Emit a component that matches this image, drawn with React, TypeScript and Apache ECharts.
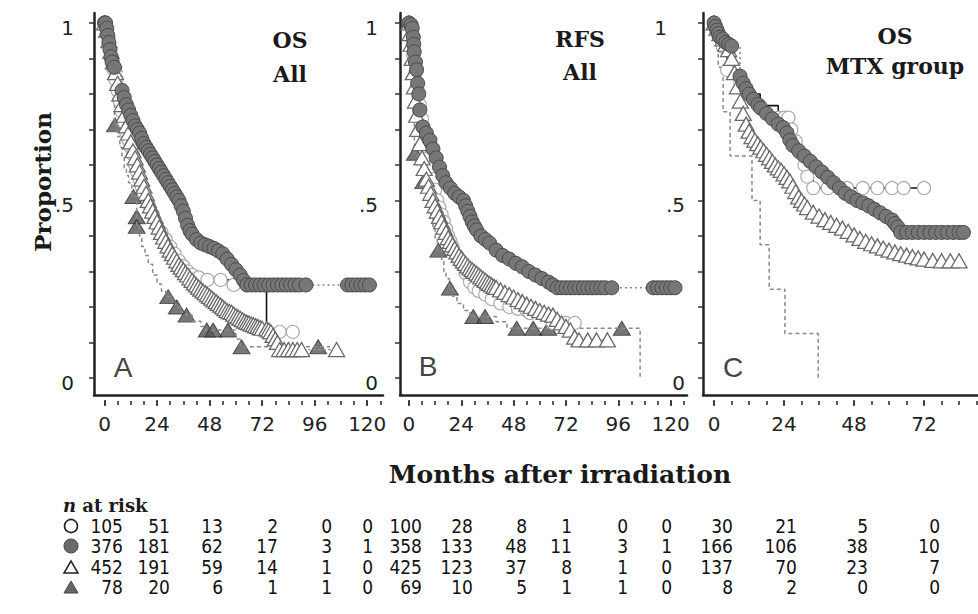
import React, { useEffect, useRef } from "react";
import * as echarts from "echarts";

// ---------- tick values ----------
const X_LABELS_ALL = [0, 24, 48, 72, 96, 120];
const X_LABELS_MTX = [0, 24, 48, 72];
const X_MINOR_ALL = [0, 6, 12, 18, 24, 30, 36, 42, 48, 54, 60, 66, 72, 78, 84, 90, 96, 102, 108, 114, 120, 126];
const X_MINOR_MTX = [0, 6, 12, 18, 24, 30, 36, 42, 48, 54, 60, 66, 72, 78, 84, 90];
const Y_TICKS = [0, 0.1, 0.2, 0.3, 0.4, 0.5, 0.6, 0.7, 0.8, 0.9, 1];
const Y_LABELS = [0, 0.5, 1];

const PANEL_TITLES = [["OS", "All"], ["RFS", "All"], ["OS", "MTX group"]];
const PANEL_LETTERS = ["A", "B", "C"];
const GROUP_SYMBOLS = ["open circle", "filled circle", "open triangle", "filled triangle"];

// ---------- Panel A: OS, all patients [months, proportion] ----------
const OS_ALL_OPEN_CIRCLE = [[0,1],[1,0.97],[2,0.94],[3,0.9],[4,0.87],[5,0.84],[6,0.81],[7,0.78],[8,0.75],[9,0.72],[10,0.69],[11,0.67],[12,0.65],[13,0.63],[14,0.6],[15,0.58],[16,0.56],[17,0.54],[18,0.52],[20,0.49],[22,0.46],[24,0.43],[26,0.41],[28,0.39],[30,0.37],[32,0.35],[34,0.33],[36,0.315],[38,0.3],[40,0.29],[43,0.283],[47,0.276],[53,0.276],[59,0.262],[66,0.262],[74,0.13],[80,0.13],[86,0.13]];
const OS_ALL_FILLED_CIRCLE = [[0,1],[0.5,1],[1,0.985],[1.5,0.965],[2,0.945],[2.5,0.925],[3,0.905],[3.5,0.89],[4.5,0.875],[8,0.81],[9,0.79],[10,0.77],[11,0.755],[12,0.74],[13,0.725],[14,0.71],[15,0.7],[16,0.69],[17,0.675],[18,0.66],[19,0.65],[20,0.64],[21,0.63],[22,0.62],[23,0.61],[24,0.6],[25,0.59],[26,0.58],[27,0.57],[28,0.56],[29,0.55],[30,0.54],[31,0.53],[32,0.52],[33,0.51],[34,0.5],[35,0.485],[36,0.47],[37,0.45],[38,0.43],[39,0.415],[40,0.405],[42,0.39],[44,0.38],[46,0.375],[48,0.37],[50,0.365],[52,0.358],[54,0.35],[56,0.335],[58,0.32],[60,0.305],[62,0.29],[63.5,0.275],[65,0.262],[67,0.262],[69,0.262],[71,0.262],[73,0.262],[75,0.262],[77,0.262],[79,0.262],[81,0.262],[83,0.262],[85,0.262],[87,0.262],[89,0.262],[92,0.262],[111,0.262],[113,0.262],[115,0.262],[117,0.262],[119,0.262],[121,0.262]];
const OS_ALL_OPEN_TRIANGLE = [[0,1],[1,0.98],[2,0.95],[3,0.92],[4,0.89],[5,0.86],[6,0.83],[7,0.8],[8,0.77],[9,0.74],[10,0.71],[11,0.69],[12,0.665],[13,0.64],[14,0.62],[15,0.6],[16,0.58],[17,0.56],[18,0.54],[19,0.52],[20,0.5],[21,0.485],[22,0.47],[23,0.455],[24,0.44],[25,0.425],[26,0.41],[27,0.397],[28,0.385],[29,0.372],[30,0.36],[31,0.35],[32,0.34],[33,0.33],[34,0.32],[35,0.312],[36,0.305],[37,0.297],[38,0.29],[39,0.282],[40,0.275],[41,0.268],[42,0.262],[43,0.256],[44,0.25],[45,0.245],[46,0.24],[47,0.235],[48,0.23],[49,0.225],[50,0.22],[51,0.215],[52,0.21],[53,0.205],[54,0.2],[55,0.195],[56,0.19],[57,0.187],[58,0.185],[59,0.18],[60,0.175],[61,0.172],[62,0.168],[63,0.164],[64,0.16],[65,0.157],[66,0.155],[67,0.152],[68,0.15],[69,0.147],[70,0.145],[71,0.142],[72,0.14],[74,0.138],[75,0.135],[76,0.13],[77,0.12],[78,0.11],[79,0.1],[80,0.08],[82,0.08],[84,0.08],[86,0.08],[88,0.08],[90,0.08],[106,0.08]];
const OS_ALL_FILLED_TRIANGLE = [[0,1],[0.5,0.96],[1,0.92],[2,0.87],[3,0.82],[4,0.77],[4.5,0.713],[6,0.68],[7,0.65],[8,0.62],[9,0.59],[10,0.57],[11,0.55],[12.5,0.511],[14.7,0.454],[14.8,0.427],[16,0.4],[17,0.37],[18.5,0.345],[20,0.32],[22,0.29],[24,0.265],[26,0.245],[28,0.229],[31,0.215],[32.5,0.2],[35,0.185],[37,0.177],[40,0.16],[44,0.145],[46,0.135],[60,0.11],[62,0.088],[103,0.088]];
const OS_ALL_FILLED_TRIANGLE_CENSOR = [[4.8,0.713],[13.2,0.511],[14.7,0.454],[14.7,0.427],[29.1,0.229],[33,0.2],[37.5,0.177],[46.7,0.135],[49.6,0.135],[56.4,0.135],[62.6,0.088],[97.6,0.088]];

// ---------- Panel B: RFS, all patients ----------
const RFS_ALL_OPEN_CIRCLE = [[0,1],[1,0.96],[2,0.91],[3,0.86],[4,0.81],[5,0.77],[6,0.73],[7,0.69],[8,0.65],[9,0.62],[10,0.59],[11,0.56],[12,0.53],[13,0.5],[14,0.48],[15,0.46],[16,0.44],[17,0.42],[18,0.4],[19,0.385],[20,0.37],[22,0.345],[24,0.32],[26,0.295],[28,0.27],[30,0.255],[32,0.245],[35,0.235],[38,0.222],[42,0.21],[46,0.2],[50,0.195],[54,0.19],[55.5,0.183],[66,0.155],[72,0.155],[76,0.155]];
const RFS_ALL_FILLED_CIRCLE = [[0,1],[1,0.995],[1.5,0.985],[2,0.96],[2.2,0.94],[2.4,0.919],[3,0.89],[3.5,0.868],[4,0.83],[4.5,0.8],[5,0.755],[6.4,0.707],[8,0.69],[9.6,0.67],[11,0.645],[12.5,0.62],[14,0.594],[15.5,0.57],[17,0.55],[19,0.535],[21,0.52],[23,0.51],[25,0.5],[26,0.485],[27,0.47],[28,0.455],[29,0.44],[30,0.428],[31,0.417],[33,0.4],[35,0.39],[37,0.38],[40,0.36],[43,0.345],[46,0.335],[49,0.323],[52,0.313],[55,0.3],[58,0.29],[61,0.28],[64,0.27],[66,0.262],[68,0.254],[70,0.254],[72,0.254],[74,0.254],[76,0.254],[78,0.254],[80,0.254],[82,0.254],[84,0.254],[86,0.254],[88,0.254],[90,0.254],[93,0.254],[112,0.254],[114,0.254],[116,0.254],[118,0.254],[120,0.254],[122,0.254]];
const RFS_ALL_OPEN_TRIANGLE = [[0,1],[0.5,0.97],[1,0.94],[1.5,0.9],[2,0.86],[2.5,0.82],[3,0.78],[3.5,0.74],[4,0.7],[5,0.66],[6,0.62],[7,0.59],[8,0.56],[9,0.54],[10,0.52],[11,0.5],[12,0.485],[13,0.47],[14,0.455],[15,0.44],[16,0.425],[17,0.41],[18,0.395],[19,0.385],[20,0.375],[21,0.365],[22,0.355],[23,0.345],[24,0.337],[25,0.33],[26,0.323],[27,0.316],[28,0.31],[29,0.305],[30,0.3],[31,0.295],[32,0.29],[33,0.285],[34,0.28],[35,0.275],[36,0.27],[37,0.266],[38,0.262],[39,0.258],[40,0.255],[42,0.248],[44,0.241],[46,0.235],[48,0.228],[50,0.221],[52,0.215],[54,0.208],[56,0.202],[58,0.196],[60,0.19],[62,0.185],[64,0.18],[66,0.177],[68,0.165],[70,0.155],[72,0.145],[74,0.135],[76,0.115],[78,0.107],[82,0.107],[86,0.107],[91,0.107]];
const RFS_ALL_FILLED_TRIANGLE = [[0,1],[0.5,0.93],[1,0.86],[1.5,0.79],[2,0.72],[2.5,0.633],[4,0.6],[5.5,0.575],[6.5,0.553],[8,0.52],[9,0.48],[10,0.45],[11,0.42],[12,0.39],[13,0.36],[15,0.33],[16,0.3],[17,0.28],[18.5,0.253],[20,0.23],[22,0.21],[25,0.19],[28,0.173],[40,0.158],[45,0.14],[106,0]];
const RFS_ALL_FILLED_TRIANGLE_CENSOR = [[2.75,0.633],[6.6,0.553],[13.5,0.36],[18.8,0.253],[29.5,0.173],[34.9,0.173],[49.4,0.14],[57,0.14],[63.9,0.14],[97.6,0.14]];

// ---------- Panel C: OS, MTX group ----------
const MTX_OS_OPEN_CIRCLE = [[0,1],[1.4,0.967],[3,0.933],[4.5,0.867],[9,0.833],[11,0.8],[15.8,0.767],[22,0.733],[24,0.733],[25.5,0.733],[26.5,0.7],[28,0.667],[29.5,0.633],[31,0.6],[32,0.567],[34,0.535],[39,0.535],[45.6,0.535],[51,0.535],[56,0.535],[61,0.535],[65,0.535],[72,0.535]];
const MTX_OS_FILLED_CIRCLE = [[0,1],[0.5,0.99],[1,0.98],[1.5,0.97],[2,0.96],[3,0.955],[4,0.945],[5,0.94],[6,0.935],[8.9,0.85],[10,0.83],[11,0.815],[12,0.8],[13.5,0.785],[15,0.77],[16,0.76],[18,0.745],[20,0.73],[22,0.715],[23.7,0.705],[25,0.69],[26,0.67],[27,0.655],[29,0.64],[31,0.625],[33,0.61],[35,0.595],[37,0.58],[39,0.565],[41,0.55],[43,0.535],[45,0.52],[47,0.51],[49,0.5],[51,0.493],[53,0.485],[55,0.475],[57,0.465],[59,0.455],[61,0.445],[62,0.435],[63,0.425],[64,0.41],[66,0.41],[68,0.41],[70,0.41],[72,0.41],[74,0.41],[76,0.41],[78,0.41],[80,0.41],[82,0.41],[84,0.41],[85.5,0.41]];
const MTX_OS_OPEN_TRIANGLE = [[0,1],[1,0.985],[2,0.97],[3,0.955],[4,0.94],[5,0.925],[6,0.9],[7,0.86],[8,0.82],[9,0.78],[10,0.745],[11,0.715],[12,0.695],[13,0.68],[14,0.67],[15,0.66],[16,0.65],[17,0.64],[18,0.63],[19,0.62],[20,0.61],[21,0.6],[22,0.592],[23,0.585],[24,0.575],[25,0.565],[26,0.555],[27,0.54],[28,0.525],[29,0.51],[30,0.5],[31,0.49],[32,0.48],[34,0.467],[36,0.456],[38,0.446],[40,0.438],[42,0.43],[44,0.422],[46,0.413],[48,0.403],[50,0.393],[52,0.385],[54,0.378],[56,0.372],[58,0.366],[60,0.36],[62,0.355],[64,0.35],[66,0.346],[68,0.342],[70,0.338],[72,0.335],[75,0.331],[78,0.33],[81,0.33],[84,0.33]];
const MTX_OS_FILLED_TRIANGLE = [[0,1],[1.4,0.875],[3.1,0.75],[5.5,0.625],[13,0.5],[15.8,0.375],[18.9,0.25],[24.3,0.125],[35.7,0]];
const MTX_OS_FILLED_TRIANGLE_CENSOR: number[][] = [];

// ---------- n at risk (A: 0..120, B: 0..120, C: 0..72) ----------
const AT_RISK_OPEN_CIRCLE = [105, 51, 13, 2, 0, 0, 100, 28, 8, 1, 0, 0, 30, 21, 5, 0];
const AT_RISK_FILLED_CIRCLE = [376, 181, 62, 17, 3, 1, 358, 133, 48, 11, 3, 1, 166, 106, 38, 10];
const AT_RISK_OPEN_TRIANGLE = [452, 191, 59, 14, 1, 0, 425, 123, 37, 8, 1, 0, 137, 70, 23, 7];
const AT_RISK_FILLED_TRIANGLE = [78, 20, 6, 1, 1, 0, 69, 10, 5, 1, 1, 0, 8, 2, 0, 0];

// ---------- layout (not data) ----------
const TABLE_COL_RIGHT = [123, 170, 223, 278, 332, 373, 422, 473, 527, 572, 628, 672, 733, 797, 868, 940];
const TABLE_ROW_Y = [526, 546, 567, 587];

const SERIF_BOLD = '"DejaVu Serif", "Liberation Serif", serif';
const SANS = '"DejaVu Sans", "Liberation Sans", sans-serif';
const NUM_FONT = '"DejaVu Sans Condensed", "DejaVu Sans", sans-serif';

const PANELS = [
  {
    grid: { left: 94, top: 13, width: 289, height: 382 },
    xMin: -4.8, xMax: 127.2, labels: X_LABELS_ALL, minor: X_MINOR_ALL, yMargin: 20, onePad: 0,
    oc: OS_ALL_OPEN_CIRCLE, fc: OS_ALL_FILLED_CIRCLE, ot: OS_ALL_OPEN_TRIANGLE,
    ft: OS_ALL_FILLED_TRIANGLE, ftc: OS_ALL_FILLED_TRIANGLE_CENSOR,
    title: [290, 40, 74], letter: [123, 367],
  },
  {
    grid: { left: 400, top: 13, width: 287, height: 382 },
    xMin: -4.1, xMax: 127.5, labels: X_LABELS_ALL, minor: X_MINOR_ALL, yMargin: 22, onePad: 0,
    oc: RFS_ALL_OPEN_CIRCLE, fc: RFS_ALL_FILLED_CIRCLE, ot: RFS_ALL_OPEN_TRIANGLE,
    ft: RFS_ALL_FILLED_TRIANGLE, ftc: RFS_ALL_FILLED_TRIANGLE_CENSOR,
    title: [580, 39, 72], letter: [428, 366],
  },
  {
    grid: { left: 703, top: 13, width: 275, height: 382 },
    xMin: -3.8, xMax: 90.5, labels: X_LABELS_MTX, minor: X_MINOR_MTX, yMargin: 18, onePad: 18,
    oc: MTX_OS_OPEN_CIRCLE, fc: MTX_OS_FILLED_CIRCLE, ot: MTX_OS_OPEN_TRIANGLE,
    ft: MTX_OS_FILLED_TRIANGLE, ftc: MTX_OS_FILLED_TRIANGLE_CENSOR,
    title: [895, 36, 66], letter: [733, 367],
  },
];

function buildOption() {
  const grid: any[] = [];
  const xAxis: any[] = [];
  const yAxis: any[] = [];
  const series: any[] = [];
  const graphic: any[] = [];

  PANELS.forEach((p, i) => {
    grid.push({ ...p.grid, containLabel: false, outerBoundsMode: "none" });
    const base = { type: "value", gridIndex: i, min: p.xMin, max: p.xMax, position: "bottom", splitLine: { show: false } };
    xAxis.push({
      ...base,
      axisLine: { show: true, onZero: false, lineStyle: { color: "#222", width: 2.5 } },
      axisTick: { show: false },
      axisLabel: { show: true, customValues: p.labels, margin: 19, fontFamily: SANS, fontSize: 20, color: "#222", formatter: (v: number) => String(v) },
    });
    xAxis.push({
      ...base, offset: 6,
      axisLine: { show: false, onZero: false },
      axisTick: { show: true, customValues: p.minor, length: 4, lineStyle: { color: "#333", width: 1.6 } },
      axisLabel: { show: false },
    });
    xAxis.push({
      ...base, offset: 5,
      axisLine: { show: false, onZero: false },
      axisTick: { show: true, customValues: p.labels, length: 6, lineStyle: { color: "#333", width: 1.6 } },
      axisLabel: { show: false },
    });
    yAxis.push({
      type: "value", gridIndex: i, min: -0.048, max: 1.028, splitLine: { show: false },
      axisLine: { show: true, onZero: false, lineStyle: { color: "#222", width: 2.5 } },
      axisTick: { show: true, customValues: Y_TICKS, length: 5, lineStyle: { color: "#333", width: 1.5 } },
      axisLabel: {
        show: true, customValues: Y_LABELS, margin: p.yMargin, padding: [10, 0, 0, 0],
        fontFamily: SANS, fontSize: 20, color: "#222",
        formatter: (v: number) => (v === 1 ? "{one|1}" : v === 0.5 ? ".5" : "0"),
        rich: { one: { fontFamily: SANS, fontSize: 20, color: "#222", padding: [0, p.onePad, 0, 0] } },
      },
    });

    const xi = i * 3;
    const common = { xAxisIndex: xi, yAxisIndex: i, animation: false, silent: true, emphasis: { disabled: true } };
    series.push({
      ...common, type: "line", step: "end", data: p.ft, showSymbol: false,
      lineStyle: { color: "#8a8a8a", width: 1.5, type: [4, 3] },
    });
    series.push({
      ...common, type: "line", step: "end", data: p.oc, showSymbol: true,
      symbol: "circle", symbolSize: 13,
      itemStyle: { color: "#fff", borderColor: "#ababab", borderWidth: 1.2 },
      lineStyle: { color: "#111", width: 1.6, type: "solid" },
    });
    series.push({
      ...common, type: "line", step: "end", data: p.ot, showSymbol: true,
      symbol: "triangle", symbolSize: [16, 14],
      itemStyle: { color: "#fff", borderColor: "#6a6a6a", borderWidth: 1.3 },
      lineStyle: { color: "#9a9a9a", width: 1.2, type: [3, 2] },
    });
    series.push({
      ...common, type: "line", step: "end", data: p.fc, showSymbol: true,
      symbol: "circle", symbolSize: 14,
      itemStyle: { color: "#777", borderColor: "#4a4a4a", borderWidth: 1 },
      lineStyle: { color: "#888", width: 1.5, type: [2, 3] },
    });
    series.push({
      ...common, type: "scatter", data: p.ftc,
      symbol: "triangle", symbolSize: [17, 14],
      itemStyle: { color: "#555", borderColor: "#333", borderWidth: 1 },
    });

    const [tx, ty1, ty2] = p.title;
    graphic.push({ type: "text", x: tx, y: ty1, silent: true, style: { text: PANEL_TITLES[i][0], fill: "#1a1a1a", font: `bold 22px ${SERIF_BOLD}`, textAlign: "center", textVerticalAlign: "middle" } });
    graphic.push({ type: "text", x: tx, y: ty2, silent: true, style: { text: PANEL_TITLES[i][1], fill: "#1a1a1a", font: `bold 22px ${SERIF_BOLD}`, textAlign: "center", textVerticalAlign: "middle" } });
    graphic.push({ type: "text", x: p.letter[0], y: p.letter[1], silent: true, style: { text: PANEL_LETTERS[i], fill: "#444", font: `28px "Liberation Sans", Arial, sans-serif`, textAlign: "center", textVerticalAlign: "middle" } });
  });

  graphic.push({ type: "text", x: 42, y: 182, rotation: Math.PI / 2, silent: true, style: { text: "Proportion", fill: "#1a1a1a", font: `bold 23px ${SERIF_BOLD}`, textAlign: "center", textVerticalAlign: "middle" } });
  graphic.push({ type: "text", x: 560, y: 474, silent: true, style: { text: "Months after irradiation", fill: "#1a1a1a", font: `bold 25px ${SERIF_BOLD}`, textAlign: "center", textVerticalAlign: "middle" } });

  graphic.push({
    type: "text", x: 63, y: 505, silent: true,
    style: {
      text: "{i|n} at risk", fill: "#1a1a1a", fontFamily: SERIF_BOLD, fontSize: 18, fontWeight: "bold", lineHeight: 18,
      textAlign: "left", textVerticalAlign: "middle",
      rich: { i: { fontStyle: "italic", fontWeight: "bold", fontFamily: SERIF_BOLD, fontSize: 18, lineHeight: 18, fill: "#1a1a1a" } },
    },
  });
  const rows = [AT_RISK_OPEN_CIRCLE, AT_RISK_FILLED_CIRCLE, AT_RISK_OPEN_TRIANGLE, AT_RISK_FILLED_TRIANGLE];
  rows.forEach((row, r) => {
    const y = TABLE_ROW_Y[r];
    const kind = GROUP_SYMBOLS[r];
    if (kind === "open circle") {
      graphic.push({ type: "circle", silent: true, shape: { cx: 71, cy: y, r: 6.5 }, style: { fill: "#fff", stroke: "#222", lineWidth: 1.6 } });
    } else if (kind === "filled circle") {
      graphic.push({ type: "circle", silent: true, shape: { cx: 71, cy: y, r: 7 }, style: { fill: "#6a6a6a", stroke: "#444", lineWidth: 1 } });
    } else if (kind === "open triangle") {
      graphic.push({ type: "polygon", silent: true, shape: { points: [[71, y - 6], [64, y + 6], [78, y + 6]] }, style: { fill: "#fff", stroke: "#222", lineWidth: 1.5 } });
    } else {
      graphic.push({ type: "polygon", silent: true, shape: { points: [[71, y - 6], [64, y + 6], [78, y + 6]] }, style: { fill: "#666", stroke: "#444", lineWidth: 1 } });
    }
    row.forEach((v, c) => {
      graphic.push({ type: "text", x: TABLE_COL_RIGHT[c], y, silent: true, style: { text: String(v), fill: "#111", fontFamily: NUM_FONT, fontSize: 19, lineHeight: 17, textAlign: "right", textVerticalAlign: "middle" } });
    });
  });

  return { animation: false, backgroundColor: "#fff", grid, xAxis, yAxis, series, graphic };
}

export default function App() {
  const ref = useRef<HTMLDivElement>(null);
  useEffect(() => {
    if (!ref.current) return;
    const chart = echarts.init(ref.current, undefined, { renderer: "svg" });
    chart.setOption(buildOption() as any);
    return () => chart.dispose();
  }, []);
  return <div ref={ref} style={{ position: "absolute", left: 0, top: 0, width: 978, height: 614, background: "#fff" }} />;
}
